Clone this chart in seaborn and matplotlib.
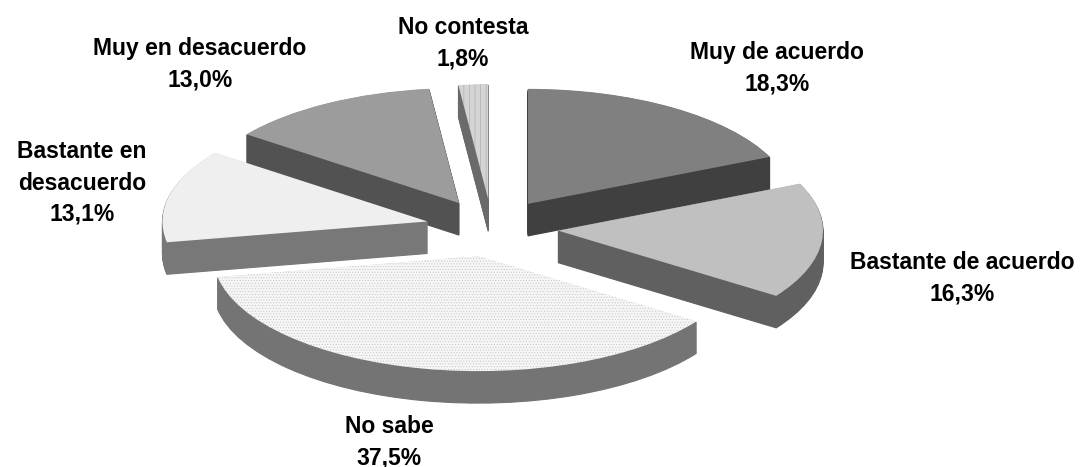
# -*- coding: utf-8 -*-
import matplotlib
matplotlib.use('Agg')
import matplotlib.pyplot as plt
from matplotlib.transforms import Bbox
import seaborn as sns

sns.set_style('white')
plt.rcParams['font.family'] = ['Liberation Sans', 'DejaVu Sans']
plt.rcParams['hatch.linewidth'] = 0.4

categories = ['Muy de acuerdo', 'Bastante de acuerdo', 'No sabe',
              'Bastante en\ndesacuerdo', 'Muy en desacuerdo', 'No contesta']
values = [18.3, 16.3, 37.5, 13.1, 13.0, 1.8]

top_colors = ['#808080', '#C0C0C0', '#F6F6F6', '#EFEFEF', '#9C9C9C', '#D4D4D4']
side_colors = ['#404040', '#606060', '#747474', '#787878', '#525252', '#6A6A6A']
top_hatch = [None, None, '......', None, None, '|||']
hatch_colors = ['#808080', '#C0C0C0', '#C4C4C4', '#EFEFEF', '#9C9C9C', '#A8A8A8']
# back slices are painted first
draw_order = [3, 2, 1, 4, 0, 5]

W, H = 1083, 467
cx, cy = 492, 228    # pie centre, pixels from the top left
rx, ry = 265, 115    # pixels per unit on each axis
depth = 32           # height of the side wall, pixels
layers = 32

fig = plt.figure(figsize=(W / 100, H / 100), dpi=100)
ax = fig.add_axes([0, 0, 1, 1])

for k in range(layers + 1):
    center = (0, -(layers - k) * depth / layers / ry)
    is_top = k == layers
    wedges, _ = ax.pie(values, explode=[0.25] * len(values), center=center,
                       startangle=90, counterclock=False, radius=1,
                       colors=top_colors if is_top else side_colors,
                       wedgeprops={'linewidth': 0})
    for i, w in enumerate(wedges):
        w.set_zorder(draw_order[i] * 100 + k)
        if is_top:
            if top_hatch[i]:
                w.set_hatch(top_hatch[i])
                w.set_edgecolor(hatch_colors[i])
        else:
            # thin outline closes the gaps between layers at the sharp tips
            w.set_edgecolor(side_colors[i])
            w.set_linewidth(0.8)

ax.set_aspect('auto')
ax.set_xlim(-cx / rx, (W - cx) / rx)
ax.set_ylim(-(H - cy) / ry, cy / ry)
ax.set_axis_off()

# label centres in pixels, from the top left
label_x = [777, 962, 389, 82, 200, 463]
label_y = [68, 278, 442, 183, 64, 43]

for name, val, lx, ly in zip(categories, values, label_x, label_y):
    txt = name + '\n' + f'{val:.1f}'.replace('.', ',') + '%'
    t = fig.text(lx / W, 1 - ly / H, txt, ha='center', va='center',
                 fontsize=16.5, fontweight='bold', color='black',
                 linespacing=1.45, multialignment='center')
    if 'en\n' in name:
        # the label is cut off by the pie's box in the original
        t.set_clip_box(Bbox([[0, 0], [155, H]]))
        t.set_clip_on(True)

sns.despine(ax=ax, left=True, bottom=True)
fig.savefig('out.png', dpi=100, facecolor='white')
